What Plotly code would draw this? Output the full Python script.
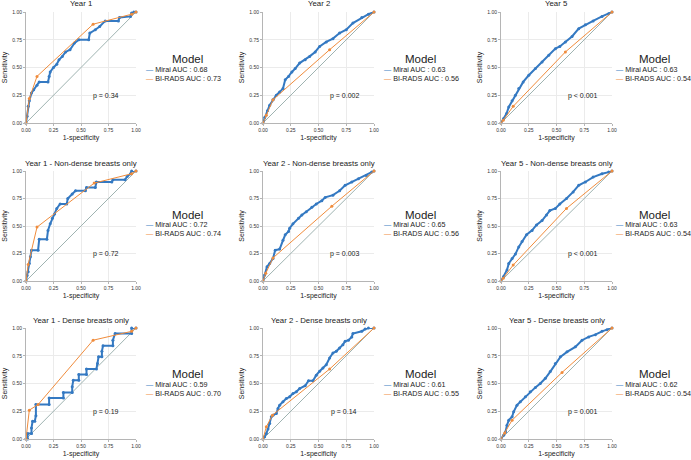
import plotly.graph_objects as go

# ---- data (FPR = 1-specificity, TPR = sensitivity) ----
titles = ["Year 1", "Year 2", "Year 5",
          "Year 1 - Non-dense breasts only", "Year 2 - Non-dense breasts only", "Year 5 - Non-dense breasts only",
          "Year 1 - Dense breasts only", "Year 2 - Dense breasts only", "Year 5 - Dense breasts only"]
mirai_auc = ["0.68", "0.63", "0.63", "0.72", "0.65", "0.63", "0.59", "0.61", "0.62"]
birads_auc = ["0.73", "0.56", "0.54", "0.74", "0.56", "0.54", "0.70", "0.55", "0.54"]
p_values = ["p = 0.34", "p = 0.002", "p < 0.001", "p = 0.72", "p = 0.003", "p < 0.001",
            "p = 0.19", "p = 0.14", "p = 0.001"]

# Year 1
mirai_fpr_1 = [0, 0.01, 0.02, 0.03, 0.05, 0.07, 0.1, 0.12, 0.2, 0.21, 0.22, 0.25, 0.28, 0.3, 0.33, 0.36, 0.4, 0.44,
               0.48, 0.57, 0.58, 0.63, 0.67, 0.72, 0.84, 0.85, 0.95, 0.96, 0.98, 1]
mirai_tpr_1 = [0, 0.06, 0.15, 0.2, 0.27, 0.3, 0.34, 0.37, 0.37, 0.42, 0.46, 0.5, 0.53, 0.57, 0.6, 0.64, 0.66, 0.72,
               0.75, 0.75, 0.81, 0.84, 0.87, 0.92, 0.92, 0.95, 0.96, 0.99, 1, 1]
birads_fpr_1 = [0, 0.03, 0.1, 0.61, 0.96, 1]
birads_tpr_1 = [0, 0.22, 0.42, 0.89, 0.98, 1]

# Year 2
mirai_fpr_2 = [0, 0.015, 0.04, 0.06, 0.09, 0.12, 0.15, 0.18, 0.2, 0.23, 0.26, 0.29, 0.33, 0.38, 0.42, 0.47, 0.51,
               0.57, 0.63, 0.69, 0.75, 0.81, 0.89, 0.95, 1]
mirai_tpr_2 = [0, 0.05, 0.11, 0.16, 0.21, 0.25, 0.28, 0.31, 0.39, 0.42, 0.46, 0.49, 0.54, 0.57, 0.6, 0.64, 0.69,
               0.73, 0.76, 0.81, 0.84, 0.9, 0.95, 0.98, 1]
birads_fpr_2 = [0, 0.03, 0.09, 0.6, 1]
birads_tpr_2 = [0, 0.07, 0.21, 0.66, 1]

# Year 5
mirai_fpr_5 = [0, 0.024, 0.05, 0.07, 0.1, 0.13, 0.16, 0.2, 0.25, 0.31, 0.37, 0.43, 0.49, 0.53, 0.58, 0.64, 0.7,
               0.76, 0.83, 0.91, 0.97, 1]
mirai_tpr_5 = [0, 0.04, 0.085, 0.145, 0.2, 0.25, 0.31, 0.37, 0.43, 0.49, 0.55, 0.61, 0.67, 0.69, 0.73, 0.78, 0.85,
               0.885, 0.92, 0.96, 0.985, 1]
birads_fpr_5 = [0, 0.02, 0.11, 0.58, 1]
birads_tpr_5 = [0, 0.025, 0.15, 0.64, 1]

# Year 1 non-dense
mirai_fpr_1n = [0, 0.01, 0.02, 0.03, 0.04, 0.05, 0.11, 0.12, 0.19, 0.2, 0.22, 0.24, 0.26, 0.28, 0.31, 0.37, 0.38,
                0.42, 0.45, 0.54, 0.55, 0.63, 0.64, 0.78, 0.79, 0.9, 0.92, 0.95, 0.96, 1]
mirai_tpr_1n = [0, 0.05, 0.085, 0.16, 0.22, 0.28, 0.28, 0.38, 0.38, 0.46, 0.52, 0.57, 0.61, 0.66, 0.7, 0.7, 0.75,
                0.79, 0.82, 0.82, 0.85, 0.85, 0.9, 0.9, 0.92, 0.92, 0.95, 0.975, 1, 1]
birads_fpr_1n = [0, 0.02, 0.1, 0.62, 0.96, 1]
birads_tpr_1n = [0, 0.15, 0.49, 0.89, 0.975, 1]

# Year 2 non-dense
mirai_fpr_2n = [0, 0.015, 0.036, 0.06, 0.09, 0.11, 0.15, 0.18, 0.2, 0.23, 0.24, 0.27, 0.32, 0.35, 0.39, 0.44,
                0.48, 0.53, 0.56, 0.63, 0.69, 0.74, 0.8, 0.86, 0.93, 0.98, 1]
mirai_tpr_2n = [0, 0.055, 0.13, 0.16, 0.205, 0.28, 0.29, 0.37, 0.42, 0.45, 0.48, 0.52, 0.57, 0.6, 0.63, 0.67,
                0.7, 0.73, 0.76, 0.78, 0.82, 0.87, 0.9, 0.93, 0.96, 0.99, 1]
birads_fpr_2n = [0, 0.025, 0.09, 0.62, 1]
birads_tpr_2n = [0, 0.07, 0.21, 0.68, 1]

# Year 5 non-dense
mirai_fpr_5n = [0, 0.024, 0.054, 0.07, 0.1, 0.13, 0.16, 0.19, 0.23, 0.28, 0.32, 0.37, 0.41, 0.44, 0.49, 0.53,
                0.59, 0.65, 0.7, 0.76, 0.83, 0.91, 0.97, 1]
mirai_tpr_5n = [0, 0.04, 0.1, 0.16, 0.205, 0.245, 0.31, 0.36, 0.42, 0.46, 0.51, 0.55, 0.6, 0.64, 0.66, 0.7,
                0.75, 0.81, 0.87, 0.9, 0.945, 0.975, 0.99, 1]
birads_fpr_5n = [0, 0.02, 0.11, 0.59, 1]
birads_tpr_5n = [0, 0.025, 0.145, 0.66, 1]

# Year 1 dense
mirai_fpr_1d = [0, 0.015, 0.015, 0.05, 0.05, 0.06, 0.08, 0.09, 0.09, 0.21, 0.21, 0.34, 0.34, 0.42, 0.42, 0.43,
                0.48, 0.48, 0.55, 0.55, 0.64, 0.65, 0.66, 0.69, 0.69, 0.7, 0.79, 0.79, 0.81, 0.96, 0.96, 1]
mirai_tpr_1d = [0, 0, 0.05, 0.05, 0.1, 0.16, 0.16, 0.21, 0.31, 0.31, 0.37, 0.37, 0.42, 0.42, 0.47, 0.53, 0.53,
                0.58, 0.58, 0.63, 0.63, 0.68, 0.74, 0.74, 0.79, 0.84, 0.84, 0.89, 0.95, 0.95, 1, 1]
birads_fpr_1d = [0, 0.03, 0.11, 0.61, 0.96, 1]
birads_tpr_1d = [0, 0.26, 0.31, 0.89, 0.97, 1]

# Year 2 dense
mirai_fpr_2d = [0, 0.015, 0.03, 0.045, 0.06, 0.075, 0.09, 0.12, 0.135, 0.15, 0.18, 0.21, 0.24, 0.27, 0.3, 0.33,
                0.38, 0.41, 0.45, 0.48, 0.51, 0.54, 0.57, 0.6, 0.63, 0.66, 0.69, 0.72, 0.74, 0.77, 0.8, 0.81,
                0.89, 0.92, 0.95, 1]
mirai_tpr_2d = [0, 0.02, 0.05, 0.09, 0.14, 0.2, 0.215, 0.23, 0.275, 0.305, 0.335, 0.365, 0.38, 0.41, 0.425,
                0.455, 0.48, 0.525, 0.525, 0.575, 0.61, 0.64, 0.67, 0.73, 0.775, 0.79, 0.82, 0.85, 0.88, 0.89,
                0.92, 0.95, 0.97, 0.99, 1, 1]
birads_fpr_2d = [0, 0.03, 0.085, 0.6, 1]
birads_tpr_2d = [0, 0.11, 0.215, 0.63, 1]

# Year 5 dense
mirai_fpr_5d = [0, 0.024, 0.04, 0.054, 0.07, 0.1, 0.114, 0.144, 0.174, 0.22, 0.264, 0.31, 0.354, 0.4, 0.444,
                0.49, 0.535, 0.595, 0.67, 0.73, 0.79, 0.85, 0.91, 0.955, 1]
mirai_tpr_5d = [0, 0.033, 0.063, 0.124, 0.17, 0.2, 0.245, 0.305, 0.335, 0.38, 0.426, 0.465, 0.5, 0.547, 0.607,
                0.68, 0.74, 0.785, 0.83, 0.89, 0.92, 0.94, 0.97, 0.985, 1]
birads_fpr_5d = [0, 0.033, 0.1, 0.55, 1]
birads_tpr_5d = [0, 0.054, 0.17, 0.6, 1]

chance = [0, 1]
ticks = [0, 0.25, 0.5, 0.75, 1]

mirai_fpr = [mirai_fpr_1, mirai_fpr_2, mirai_fpr_5, mirai_fpr_1n, mirai_fpr_2n, mirai_fpr_5n,
             mirai_fpr_1d, mirai_fpr_2d, mirai_fpr_5d]
mirai_tpr = [mirai_tpr_1, mirai_tpr_2, mirai_tpr_5, mirai_tpr_1n, mirai_tpr_2n, mirai_tpr_5n,
             mirai_tpr_1d, mirai_tpr_2d, mirai_tpr_5d]
birads_fpr = [birads_fpr_1, birads_fpr_2, birads_fpr_5, birads_fpr_1n, birads_fpr_2n, birads_fpr_5n,
              birads_fpr_1d, birads_fpr_2d, birads_fpr_5d]
birads_tpr = [birads_tpr_1, birads_tpr_2, birads_tpr_5, birads_tpr_1n, birads_tpr_2n, birads_tpr_5n,
              birads_tpr_1d, birads_tpr_2d, birads_tpr_5d]

W, H = 691, 460
# pixel boxes of the plot panels
col_px = [(26, 136), (263, 374), (501, 612)]
row_px = [(12, 123), (171, 281), (328, 439)]
# legend placement (glyph left edge, "Model" centre, title row)
legend_x_px = [144, 382, 614]
legend_title_x_px = [187, 420, 654]
legend_title_y_px = [59, 215, 374]

BLUE = "#3479c2"
ORANGE = "#f08c3c"
DIAG = "#9fb3b1"
FONT = "Liberation Sans, Arial, sans-serif"

fig = go.Figure()
layout = dict(width=W, height=H, margin=dict(l=0, r=0, t=0, b=0, autoexpand=False),
              paper_bgcolor="white", plot_bgcolor="white", showlegend=False,
              font=dict(family=FONT, color="#222222"), annotations=[])


def paper(px, py):
    return px / W, 1 - py / H


for i in range(9):
    r, c = divmod(i, 3)
    n = "" if i == 0 else str(i + 1)
    xa, ya = "x" + n, "y" + n

    fig.add_trace(go.Scatter(x=chance, y=chance, mode="lines", xaxis=xa, yaxis=ya,
                             line=dict(color=DIAG, width=1), hoverinfo="skip"))
    fig.add_trace(go.Scatter(x=mirai_fpr[i], y=mirai_tpr[i], mode="lines+markers", xaxis=xa, yaxis=ya,
                             name="Mirai AUC : " + mirai_auc[i], cliponaxis=False,
                             line=dict(color=BLUE, width=2), marker=dict(color=BLUE, size=3)))
    fig.add_trace(go.Scatter(x=birads_fpr[i], y=birads_tpr[i], mode="lines+markers", xaxis=xa, yaxis=ya,
                             name="BI-RADS AUC : " + birads_auc[i], cliponaxis=False,
                             line=dict(color=ORANGE, width=1), marker=dict(color=ORANGE, size=3)))

    x0, x1 = col_px[c]
    y0, y1 = row_px[r]
    axis_common = dict(range=[0, 1], tickvals=ticks, tickformat=".2f", showgrid=True,
                       gridcolor="#ebebeb", gridwidth=1, zeroline=False, showline=True,
                       linecolor="#b5b5b5", linewidth=1, ticks="outside", ticklen=2,
                       tickcolor="#b5b5b5", tickfont=dict(size=5, color="#333333"))
    layout["xaxis" + n] = dict(axis_common, domain=[x0 / W, x1 / W], anchor=ya,
                               title=dict(text="1-specificity", font=dict(size=7), standoff=3))
    layout["yaxis" + n] = dict(axis_common, domain=[1 - y1 / H, 1 - y0 / H], anchor=xa,
                               title=dict(text="Sensitivity", font=dict(size=7), standoff=3))

    # panel title
    tx, ty = paper((x0 + x1) / 2, y0 - 8)
    layout["annotations"].append(dict(text=titles[i], x=tx, y=ty, xref="paper", yref="paper",
                                      showarrow=False, font=dict(size=7.8), xanchor="center",
                                      yanchor="middle"))
    # p-value
    layout["annotations"].append(dict(text=p_values[i], x=0.73, y=0.245, xref=xa, yref=ya,
                                      showarrow=False, font=dict(size=7, color="#222222"),
                                      xanchor="center"))
    # legend block: title + two entries
    lx, ly = paper(legend_title_x_px[c], legend_title_y_px[r])
    layout["annotations"].append(dict(text="Model", x=lx, y=ly, xref="paper", yref="paper",
                                      showarrow=False, font=dict(size=11.5), xanchor="center",
                                      yanchor="middle"))
    entries = [(BLUE, "Mirai AUC : " + mirai_auc[i]), (ORANGE, "BI-RADS AUC : " + birads_auc[i])]
    for k, (col, label) in enumerate(entries):
        ex, ey = paper(legend_x_px[c], legend_title_y_px[r] + 10 + 9 * k)
        layout["annotations"].append(dict(
            text=f'<span style="color:{col}">—</span> {label}', x=ex, y=ey,
            xref="paper", yref="paper", showarrow=False, font=dict(size=7.2),
            xanchor="left", yanchor="middle"))

fig.update_layout(**layout)
# drop the default 8px page margin so the figure sits at the window's top-left corner
fig.write_html("out.html", config={"displayModeBar": False},
               post_script="document.body.style.margin='0';")
